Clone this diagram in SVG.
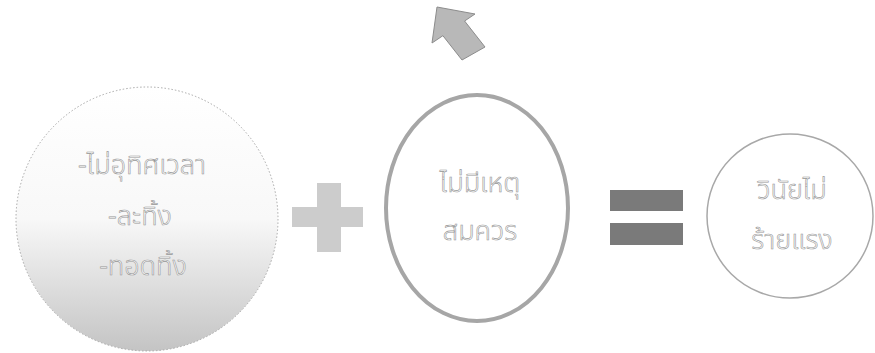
<svg xmlns="http://www.w3.org/2000/svg" width="875" height="353" viewBox="0 0 875 353">
<defs>
<linearGradient id="g1" x1="0" y1="0" x2="0" y2="1">
<stop offset="0" stop-color="#ffffff"/>
<stop offset="0.5" stop-color="#f8f8f8"/>
<stop offset="1" stop-color="#c4c4c4"/>
</linearGradient>
<style>
.t{font-family:"Noto Sans Thai","Noto Sans","Loma","Garuda",sans-serif;font-size:27px;font-weight:300;fill:#ffffff;stroke:#959595;stroke-width:0.6;text-anchor:middle}
</style>
</defs>
<rect width="875" height="353" fill="#ffffff"/>
<g id="arrow">
<polygon points="437,7 475,14 464.6,21 485,47 462,60 442.9,35.7 432,43" fill="#b8b8b8" stroke="#8c8c8c" stroke-width="1"/>
</g>
<g id="node1">
<ellipse cx="147" cy="219" rx="131" ry="132" fill="url(#g1)" stroke="#a8a8a8" stroke-width="1" stroke-dasharray="1.5 2"/>
<text class="t" x="142" y="174">-ไม่อุทิศเวลา</text>
<text class="t" x="140" y="225">-ละทิ้ง</text>
<text class="t" x="143" y="275">-ทอดทิ้ง</text>
</g>
<g id="plus">
<rect x="317" y="183" width="24" height="69" fill="#cccccc"/>
<rect x="292" y="207" width="71" height="20" fill="#cccccc"/>
</g>
<g id="node2">
<ellipse cx="477" cy="208" rx="91" ry="113" fill="#ffffff" stroke="#a6a6a6" stroke-width="4"/>
<text class="t" x="480" y="192">ไม่มีเหตุ</text>
<text class="t" x="480" y="240">สมควร</text>
</g>
<g id="equals">
<rect x="610" y="190" width="73" height="21" fill="#7a7a7a"/>
<rect x="610" y="223" width="73" height="22" fill="#7a7a7a"/>
</g>
<g id="node3">
<ellipse cx="790" cy="216" rx="83" ry="82" fill="#ffffff" stroke="#a8a8a8" stroke-width="1.5"/>
<text class="t" x="792" y="199">วินัยไม่</text>
<text class="t" x="792" y="249">ร้ายแรง</text>
</g>
<g id="connectors"/>
</svg>
